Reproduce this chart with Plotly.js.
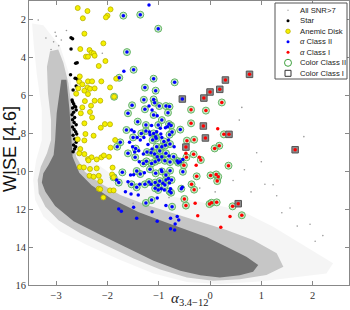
<!DOCTYPE html>
<html><head><meta charset="utf-8">
<script src="https://cdn.plot.ly/plotly-3.0.1.min.js"></script>
<style>html,body{margin:0;padding:0;background:#fff}#chart{width:350px;height:310px}</style>
</head><body><div id="chart"></div>
<script>
// ---- Data ----
// Outline of the "All SNR>7" cloud: sparse envelope, medium halo, dense core
const cloudSparseX = [-3.47,-3.25,-2.92,-2.73,-2.63,-2.58,-2.40,-1.95,-1.36,-0.71,-0.06,0.58,1.23,1.88,2.40,2.27,1.75,0.97,0.19,-0.45,-1.10,-1.75,-2.40,-2.92,-3.25,-3.41,-3.45,-3.39,-3.28,-3.28,-3.38,-3.44];
const cloudSparseY = [2.23,2.32,3.46,5.04,6.79,8.37,9.25,10.12,10.82,11.35,11.70,12.05,12.93,13.98,14.86,15.39,15.56,15.82,15.95,15.84,15.39,14.68,13.89,13.19,12.40,11.53,10.47,9.42,8.37,6.79,4.86,3.28];
const cloudMidX = [-3.12,-2.96,-2.86,-2.76,-2.69,-2.66,-2.61,-2.44,-2.14,-1.75,-1.23,-0.71,-0.19,0.32,0.84,1.30,1.43,1.10,0.58,0.06,-0.45,-0.97,-1.49,-2.01,-2.53,-2.95,-3.21,-3.34,-3.36,-3.30,-3.18,-3.10,-3.10,-3.16,-3.18];
const cloudMidY = [3.70,3.60,4.30,5.39,6.79,8.37,9.25,10.04,10.65,11.26,11.79,12.23,12.67,13.11,13.63,14.33,15.04,15.47,15.70,15.77,15.60,15.18,14.60,13.95,13.28,12.61,11.88,11.18,10.47,9.77,9.07,8.37,7.32,5.91,4.51];
const cloudCoreX = [-2.90,-2.80,-2.74,-2.71,-2.68,-2.55,-2.31,-1.92,-1.40,-0.88,-0.45,-0.06,0.32,0.71,0.94,0.84,0.58,0.19,-0.19,-0.58,-1.10,-1.62,-2.14,-2.66,-3.02,-3.21,-3.28,-3.25,-3.15,-3.05,-3.02,-2.99];
const cloudCoreY = [5.20,5.20,6.79,8.37,9.25,10.09,10.75,11.46,12.16,12.68,13.11,13.49,13.98,14.51,14.95,15.30,15.49,15.60,15.49,15.25,14.72,14.05,13.35,12.65,11.84,11.09,10.61,10.12,9.68,9.16,8.37,6.96];
// isolated field sources
const fieldX = [0.62,0.57,1.83,0.91,1.00,0.67,1.07,1.23,1.30,1.56,1.95,2.20,0.10,-0.20,0.45,-0.80,-1.50,-2.10,-2.80,-3.35,-3.20,0.80,1.40,1.70,2.05,-3.05,-3.00,-2.95,-3.10,-2.90,-3.02];
const fieldY = [6.65,7.32,8.19,9.04,9.51,9.93,10.70,10.72,11.30,11.95,12.80,13.40,11.10,10.90,10.50,11.40,11.70,3.80,2.60,2.05,3.00,11.10,12.20,12.90,13.70,3.20,2.90,3.40,3.60,3.10,2.70];

const starX = [-2.71,-2.68,-2.71,-2.62,-2.59,-2.72,-2.63,-2.60,-2.57,-2.61,-2.67,-2.69,-2.68,-2.66,-2.64,-2.68,-2.62,-2.61,-2.66,-2.69,-2.64,-2.68,-2.65,-2.61,-2.68,-2.65,-2.62,-2.60,-2.67,-2.64,-2.61,-2.66,-2.62,-2.64,-2.67];
const starY = [2.98,3.04,3.58,4.33,4.30,4.93,5.11,5.14,5.23,5.53,5.74,6.26,6.35,6.46,6.58,6.68,6.63,6.79,6.91,7.04,7.18,7.30,7.44,7.56,7.68,7.82,7.93,8.05,8.12,8.32,8.49,8.63,8.72,8.84,8.98];

// colour-class flag per source: 0 none, 2 = Color Class II, 1 = Color Class I
const anemicX = [-2.58,-2.39,-2.48,-1.94,-2.00,-2.03,-2.45,-2.53,-2.35,-2.31,-2.27,-2.25,-2.42,-2.38,-2.08,-2.04,-2.17,-2.54,-2.55,-2.49,-2.38,-2.30,-2.39,-2.34,-2.45,-2.57,-2.25,-2.12,-1.95,-1.83,-2.61,-2.38,-2.14,-2.25,-2.44,-2.49,-2.32,-2.34,-2.30,-2.52,-2.45,-2.13,-2.05,-1.95,-2.43,-2.27,-2.58,-2.45,-1.85,-1.94,-2.53,-2.55,-2.45,-2.38,-2.31,-2.21,-2.12,-2.07,-2.37,-1.97,-2.54,-2.46,-2.34,-2.21,-1.90,-2.35,-2.27,-2.17,-2.14,-2.17,-2.14,-1.95,-1.88,-2.08,-1.91,-1.87,-1.88];
const anemicY = [1.42,1.58,1.96,1.49,1.82,1.91,2.77,3.58,3.63,3.77,3.81,3.93,3.98,3.98,3.28,4.21,4.47,5.02,5.30,5.44,5.28,5.28,5.60,5.67,5.77,5.65,5.65,5.28,5.60,5.14,5.93,5.95,6.30,6.30,6.32,6.65,6.56,6.89,7.18,6.96,7.49,7.72,7.53,7.54,8.05,8.14,8.33,8.39,8.37,8.77,8.84,9.07,9.11,9.37,9.28,9.39,9.28,9.18,9.44,9.25,9.79,9.81,9.89,9.86,9.82,10.25,10.30,10.25,10.54,10.93,10.96,11.02,11.02,11.39,10.18,6.09,10.33];
const anemicFlag = [0,0,0,0,0,0,0,0,0,0,0,0,0,0,0,0,0,0,0,0,0,0,0,0,0,0,0,0,0,0,0,0,0,0,0,0,0,0,0,0,0,0,0,0,0,0,0,0,0,0,0,0,0,0,0,0,0,0,0,0,0,0,0,0,0,0,0,0,0,0,0,0,0,0,0,2,2];

const cls2X = [-1.19,-1.69,-1.36,-1.01,-1.62,-1.68,-1.49,-1.77,-1.10,-0.69,-1.27,-1.06,-0.54,-1.29,-1.52,-1.60,-1.10,-1.08,-0.99,-0.86,-0.79,-1.27,-1.19,-1.13,-1.03,-0.82,-1.10,-1.41,-1.25,-1.14,-1.01,-0.94,-0.83,-0.80,-0.76,-0.97,-0.87,-0.74,-0.58,-1.63,-1.53,-1.48,-1.34,-1.25,-1.18,-1.10,-1.04,-0.96,-1.06,-0.79,-1.50,-1.42,-1.36,-1.29,-1.17,-1.12,-1.05,-0.94,-0.90,-0.81,-1.75,-1.81,-1.57,-1.51,-1.45,-1.39,-1.21,-1.13,-1.04,-0.94,-0.87,-0.98,-0.78,-0.70,-1.47,-1.60,-1.46,-1.30,-1.23,-1.15,-1.08,-1.03,-0.94,-0.86,-0.80,-0.71,-0.64,-0.58,-0.53,-1.38,-1.30,-1.24,-1.14,-1.07,-1.00,-0.88,-0.78,-0.62,-1.71,-1.55,-1.49,-1.43,-1.36,-1.28,-1.17,-1.06,-0.95,-0.94,-0.86,-0.78,-0.86,-0.81,-0.75,-1.78,-1.82,-1.60,-1.53,-1.43,-1.37,-1.27,-1.19,-1.15,-1.07,-1.01,-0.98,-0.92,-0.88,-0.79,-0.56,-0.54,-1.07,-1.01,-0.95,-0.89,-0.79,-0.76,-0.77,-1.65,-1.54,-1.40,-1.25,-1.14,-1.03,-0.86,-0.74,-1.73,-1.78,-1.49,-1.43,-1.13,-1.03,-0.77,-0.61,-0.64,-0.68,-0.77,-0.69,-0.53];
const cls2Y = [1.26,1.82,1.77,2.51,3.74,4.75,4.67,5.09,5.14,5.33,5.61,5.77,6.21,6.25,6.54,6.96,6.23,6.40,6.58,6.58,6.61,6.75,6.58,6.79,7.09,6.93,7.05,7.40,7.58,7.61,7.58,7.32,7.67,7.53,7.61,7.75,7.72,7.95,7.82,7.84,7.84,7.93,8.02,7.89,7.95,8.02,7.93,8.05,8.19,8.09,8.23,8.23,8.37,8.23,8.09,8.37,8.28,8.23,8.44,8.37,8.49,8.72,8.49,8.72,8.82,8.93,8.60,8.84,8.72,8.72,8.65,8.95,8.58,8.72,9.00,9.07,9.28,9.11,9.00,9.04,9.11,9.25,9.25,9.07,9.21,9.25,9.47,9.51,9.39,9.51,9.60,9.49,9.60,9.51,9.42,9.46,9.53,9.56,10.07,10.21,10.19,10.00,10.16,10.09,9.91,10.12,9.95,10.02,10.21,9.98,10.47,10.39,10.47,10.61,10.47,10.56,10.70,10.86,10.70,10.70,10.58,10.70,10.61,10.75,10.53,10.65,10.74,10.63,10.93,10.86,10.91,11.00,10.93,11.00,11.07,11.14,10.93,11.09,11.21,11.26,11.68,11.53,11.42,11.81,11.88,12.12,12.00,11.91,12.49,12.14,12.65,12.49,12.58,12.40,12.79,13.04,13.11,10.04];
const cls2Flag = [0,2,2,2,2,0,2,2,2,2,2,2,1,2,2,2,2,2,2,2,2,2,0,0,0,2,2,2,2,0,2,2,0,2,2,0,0,2,2,2,0,0,2,2,0,2,0,0,2,2,2,0,0,0,0,2,2,0,2,0,2,2,0,0,2,0,0,0,2,2,2,2,2,0,0,2,2,0,2,2,2,2,2,2,0,2,2,2,0,0,2,2,2,2,2,2,2,2,2,0,0,2,2,0,2,2,0,2,2,2,2,0,2,2,0,0,2,2,0,2,2,0,2,2,2,0,2,0,2,0,2,2,0,0,2,2,0,0,0,0,2,2,0,0,2,0,0,0,0,0,0,0,0,0,0,0,0,2];

const cls1X = [0.77,0.30,0.00,0.19,-0.12,0.23,-0.37,-0.08,-0.37,-0.13,0.15,0.27,0.37,-0.09,-0.45,-0.31,-0.47,0.18,0.09,-0.47,-0.32,-0.21,-0.18,-0.46,0.36,-0.26,0.01,0.12,0.14,0.16,-0.36,-0.31,-0.50,-0.47,-0.29,-0.01,0.03,0.13,0.44,0.55,-0.24,0.21,0.39,0.62,1.66,-0.51,-0.27];
const cls1Y = [4.91,5.21,5.84,5.70,6.16,6.39,6.77,6.82,7.49,7.63,7.77,8.07,8.07,8.26,8.40,8.35,8.74,8.67,8.81,9.07,9.12,9.28,9.42,9.28,9.72,10.28,10.23,10.18,10.53,10.30,10.70,10.98,11.47,11.82,11.70,11.74,11.67,11.65,11.86,11.72,12.35,12.96,12.39,12.33,8.88,9.70,9.70];
const cls1Flag = [1,1,1,1,1,2,2,2,2,1,0,2,1,1,2,2,1,2,2,0,2,0,2,2,2,2,2,2,2,2,2,2,2,2,0,2,2,2,2,1,0,0,0,2,1,2,0];

// ---- Build traces ----
function pick(xs, ys, fl, v){const ox=[],oy=[];for(let i=0;i<xs.length;i++){if(fl[i]===v){ox.push(xs[i]);oy.push(ys[i]);}}return [ox,oy];}
const allX=[].concat(anemicX,cls2X,cls1X), allY=[].concat(anemicY,cls2Y,cls1Y), allF=[].concat(anemicFlag,cls2Flag,cls1Flag);
const [ringX,ringY]=pick(allX,allY,allF,2);
const [sqX,sqY]=pick(allX,allY,allF,1);

const traces = [
 {x:cloudSparseX,y:cloudSparseY,type:'scatter',mode:'lines',fill:'toself',fillcolor:'rgba(130,130,130,0.08)',line:{width:0},hoverinfo:'skip'},
 {x:cloudMidX,y:cloudMidY,type:'scatter',mode:'lines',fill:'toself',fillcolor:'rgba(120,120,120,0.38)',line:{width:0},hoverinfo:'skip'},
 {x:cloudCoreX,y:cloudCoreY,type:'scatter',mode:'lines',fill:'toself',fillcolor:'rgb(115,115,115)',line:{width:0},hoverinfo:'skip'},
 {x:fieldX,y:fieldY,type:'scatter',mode:'markers',marker:{size:1.6,color:'#999'}},
 {x:starX,y:starY,type:'scatter',mode:'markers',marker:{size:3.5,color:'#000'}},
 {x:ringX,y:ringY,type:'scatter',mode:'markers',marker:{size:7,color:'rgba(140,210,140,0.45)',line:{color:'rgb(100,180,100)',width:1}}},
 {x:sqX,y:sqY,type:'scatter',mode:'markers',marker:{symbol:'square',size:6.5,color:'#8c8c8c',line:{color:'#555',width:1}}},
 {x:anemicX,y:anemicY,type:'scatter',mode:'markers',marker:{size:5,color:'#f5f000',line:{color:'#b8b000',width:0.8}}},
 {x:cls2X,y:cls2Y,type:'scatter',mode:'markers',marker:{size:3.5,color:'#0000ff'}},
 {x:cls1X,y:cls1Y,type:'scatter',mode:'markers',marker:{size:3.5,color:'#ff0000'}}
];

// ---- Legend drawn by hand (compact, like the reference) ----
const L=29,R=349,T=1,B=285;
const px2x=p=>(p-L)/(R-L), py2y=p=>(B-p)/(B-T);
function sym(px,py,d,type,fill,line,lw){return {type:type,xref:'paper',yref:'paper',xsizemode:'pixel',ysizemode:'pixel',xanchor:px2x(px),yanchor:py2y(py),x0:-d/2,x1:d/2,y0:-d/2,y1:d/2,fillcolor:fill,line:{color:line,width:lw},layer:'above'};}
const legRows=[10.3,20.8,31.3,41.8,52.3,62.8,73.3];
const legText=['All SNR>7','Star','Anemic Disk','<i>α</i> Class II','<i>α</i> Class I','Color Class II','Color Class I'];
const shapes=[
 {type:'rect',xref:'paper',yref:'paper',x0:px2x(275),x1:px2x(347),y0:py2y(79),y1:py2y(3),fillcolor:'#fff',line:{color:'#555',width:1},layer:'above'},
 sym(288,legRows[0],1.5,'circle','#aaa','#aaa',0),
 sym(288,legRows[1],3,'circle','#000','#000',0),
 sym(288,legRows[2],4.5,'circle','#f5f000','#b8b000',0.8),
 sym(288,legRows[3],3,'circle','#0000ff','#0000ff',0),
 sym(288,legRows[4],3,'circle','#ff0000','#ff0000',0),
 sym(288,legRows[5],7,'circle','rgba(0,0,0,0)','rgb(60,160,60)',1),
 sym(288,legRows[6],6,'rect','rgba(0,0,0,0)','#333',1)
];
const annotations = legText.map((t,i)=>({xref:'paper',yref:'paper',x:px2x(297.5),y:py2y(legRows[i]),xanchor:'left',yanchor:'middle',text:t,showarrow:false,font:{family:'Liberation Sans, Arial, sans-serif',size:7.7,color:'#222'}}));
annotations.push({xref:'paper',yref:'paper',x:px2x(10),y:py2y(149),xanchor:'center',yanchor:'middle',textangle:-90,text:'WISE [4.6]',showarrow:false,font:{family:'Liberation Sans, Arial, sans-serif',size:18,color:'#111'}});
annotations.push({xref:'paper',yref:'paper',x:0.5,y:py2y(298.5),xanchor:'center',yanchor:'middle',text:'<i>α</i><sub>3.4−12</sub>',showarrow:false,font:{family:'Liberation Serif, serif',size:15,color:'#222'}});

const axisCommon={showgrid:false,zeroline:false,showline:true,linecolor:'#888',linewidth:1,mirror:'ticks',ticks:'inside',ticklen:4,tickcolor:'#888',tickfont:{family:'Liberation Serif, serif',size:10.5,color:'#333'}};
const layout={
 width:350,height:310,margin:{l:L,r:350-R,t:T,b:310-B},
 paper_bgcolor:'#fff',plot_bgcolor:'#fff',showlegend:false,
 xaxis:Object.assign({},axisCommon,{range:[-3.53,2.71],tickvals:[-3,-2,-1,0,1,2],ticklabelstandoff:0}),
 yaxis:Object.assign({},axisCommon,{range:[16,1.05],tickvals:[2,4,6,8,10,12,14,16]}),
 shapes:shapes,annotations:annotations
};
Plotly.newPlot('chart',traces,layout,{staticPlot:true,displayModeBar:false});
</script></body></html>
